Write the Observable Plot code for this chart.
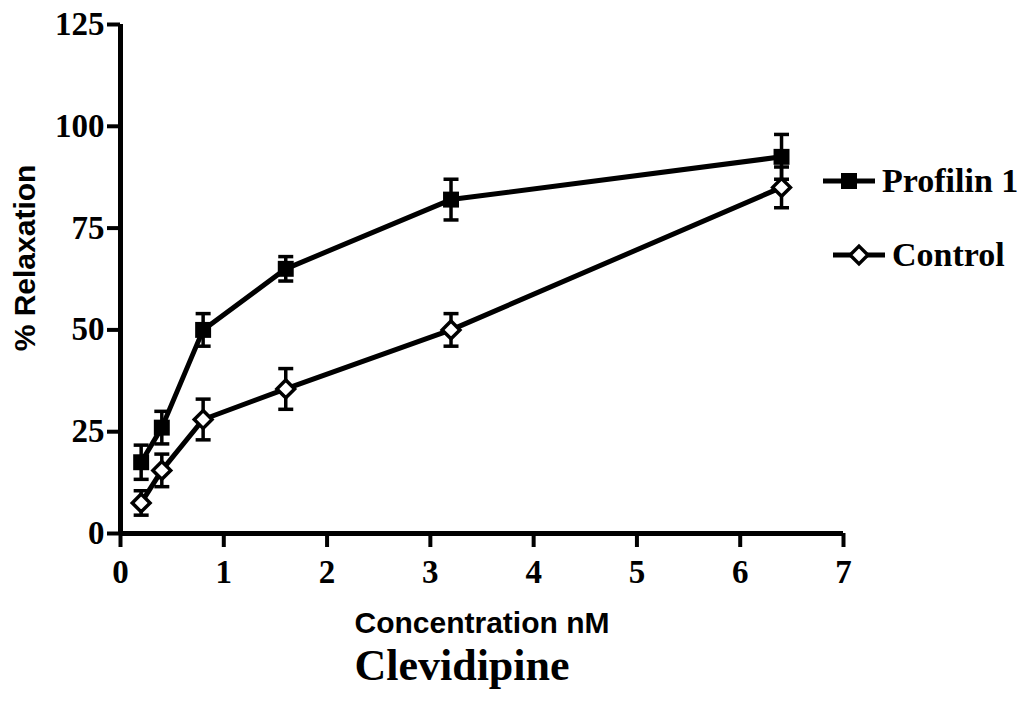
<!DOCTYPE html>
<html>
<head>
<meta charset="utf-8">
<script src="https://cdn.jsdelivr.net/npm/d3@7"></script>
<script src="https://cdn.jsdelivr.net/npm/@observablehq/plot@0.6"></script>
<style>
  html, body { margin: 0; padding: 0; background: #fff; }
  #wrap { position: relative; width: 1024px; height: 713px; }
  .leg { position: absolute; display: flex; align-items: center; font-family: "Liberation Serif", serif; font-weight: bold; font-size: 34px; color: #000; line-height: 1; }
  .leg svg { display: block; margin-right: 5px; }
</style>
</head>
<body>
<div id="wrap"></div>
<script>
// Data
const conc = [0.2, 0.4, 0.8, 1.6, 3.2, 6.4];
const profilin = [17.5, 26, 50, 65, 82, 92.5];
const profilinErr = [4.2, 4, 4, 3, 5, 5.5];
const control = [7.5, 15.5, 28, 35.5, 50, 85];
const controlErr = [3, 4, 5, 5, 4, 5];
const xTicks = [0, 1, 2, 3, 4, 5, 6, 7];
const yTicks = [0, 25, 50, 75, 100, 125];
const seriesNames = ["Profilin 1", "Control"];
const xLabel = "Concentration nM";
const yLabel = "% Relaxation";
const drugLabel = "Clevidipine";

const rows = (vals, errs, series) => conc.map((x, i) => ({x, y: vals[i], e: errs[i], series}));
const pRows = rows(profilin, profilinErr, seriesNames[0]);
const cRows = rows(control, controlErr, seriesNames[1]);

const cap = {draw(ctx, size) { const w = Math.sqrt(size / Math.PI); ctx.moveTo(-w, 0); ctx.lineTo(w, 0); }};

const serif = "Liberation Serif";
const sans = "Liberation Sans";

const errMarks = (data) => [
  Plot.ruleX(data, {x: "x", y1: d => d.y - d.e, y2: d => d.y + d.e, stroke: "black", strokeWidth: 3.5}),
  Plot.dot(data, {x: "x", y: d => d.y + d.e, symbol: cap, r: 7.5, stroke: "black", strokeWidth: 3.5, fill: "none"}),
  Plot.dot(data, {x: "x", y: d => d.y - d.e, symbol: cap, r: 7.5, stroke: "black", strokeWidth: 3.5, fill: "none"})
];

const chart = Plot.plot({
  width: 1024,
  height: 713,
  marginTop: 24,
  marginLeft: 120,
  marginRight: 181,
  marginBottom: 180,
  x: {domain: [0, 7]},
  y: {domain: [0, 125]},
  style: {background: "white", color: "black", fontFamily: serif},
  marks: [
    Plot.axisX({ticks: xTicks, tickSize: 14, tickPadding: 12, strokeWidth: 4, fontSize: 33, fontWeight: "bold", fontFamily: serif, label: null, tickFormat: d => String(d)}),
    Plot.axisY({ticks: yTicks, tickSize: 13, tickPadding: 3, strokeWidth: 4, fontSize: 33, fontWeight: "bold", fontFamily: serif, label: null, tickFormat: d => String(d)}),
    Plot.ruleX([0], {strokeWidth: 5}),
    Plot.ruleY([0], {strokeWidth: 5}),
    Plot.line(pRows, {x: "x", y: "y", stroke: "black", strokeWidth: 5}),
    Plot.line(cRows, {x: "x", y: "y", stroke: "black", strokeWidth: 5}),
    ...errMarks(pRows),
    ...errMarks(cRows),
    Plot.dot(pRows, {x: "x", y: "y", symbol: "square", r: 9, fill: "black", stroke: "none"}),
    Plot.dot(cRows, {x: "x", y: "y", symbol: "diamond2", r: 8, fill: "white", stroke: "black", strokeWidth: 3.5}),
    Plot.text([xLabel], {frameAnchor: "bottom", dy: 90, fontSize: 30, fontWeight: "bold", fontFamily: sans, lineAnchor: "middle"}),
    Plot.text([drugLabel], {frameAnchor: "bottom", dx: -20, dy: 132, fontSize: 44, fontWeight: "bold", fontFamily: serif, lineAnchor: "middle"}),
    Plot.text([yLabel], {frameAnchor: "left", textAnchor: "middle", dx: -95, dy: -21, rotate: -90, fontSize: 30, fontWeight: "bold", fontFamily: sans, lineAnchor: "middle"})
  ]
});

const wrap = document.getElementById("wrap");
wrap.appendChild(chart);

// Legend (HTML overlay)
function legendItem(name, marker, left, top) {
  const div = document.createElement("div");
  div.className = "leg";
  div.style.left = left + "px";
  div.style.top = top + "px";
  const svg = d3.create("svg").attr("width", 56).attr("height", 24);
  svg.append("line").attr("x1", 2).attr("x2", 54).attr("y1", 12).attr("y2", 12).attr("stroke", "black").attr("stroke-width", 5);
  if (marker === "square") {
    svg.append("rect").attr("x", 20).attr("y", 4).attr("width", 16).attr("height", 16).attr("fill", "black");
  } else {
    svg.append("path").attr("d", d3.symbol(d3.symbolDiamond2, Math.PI * 8 * 8)()).attr("transform", "translate(28,12)").attr("fill", "white").attr("stroke", "black").attr("stroke-width", 3.5);
  }
  div.appendChild(svg.node());
  const span = document.createElement("span");
  span.textContent = name;
  div.appendChild(span);
  wrap.appendChild(div);
}
legendItem(seriesNames[0], "square", 821, 164);
legendItem(seriesNames[1], "diamond", 831, 238);
</script>
</body>
</html>
